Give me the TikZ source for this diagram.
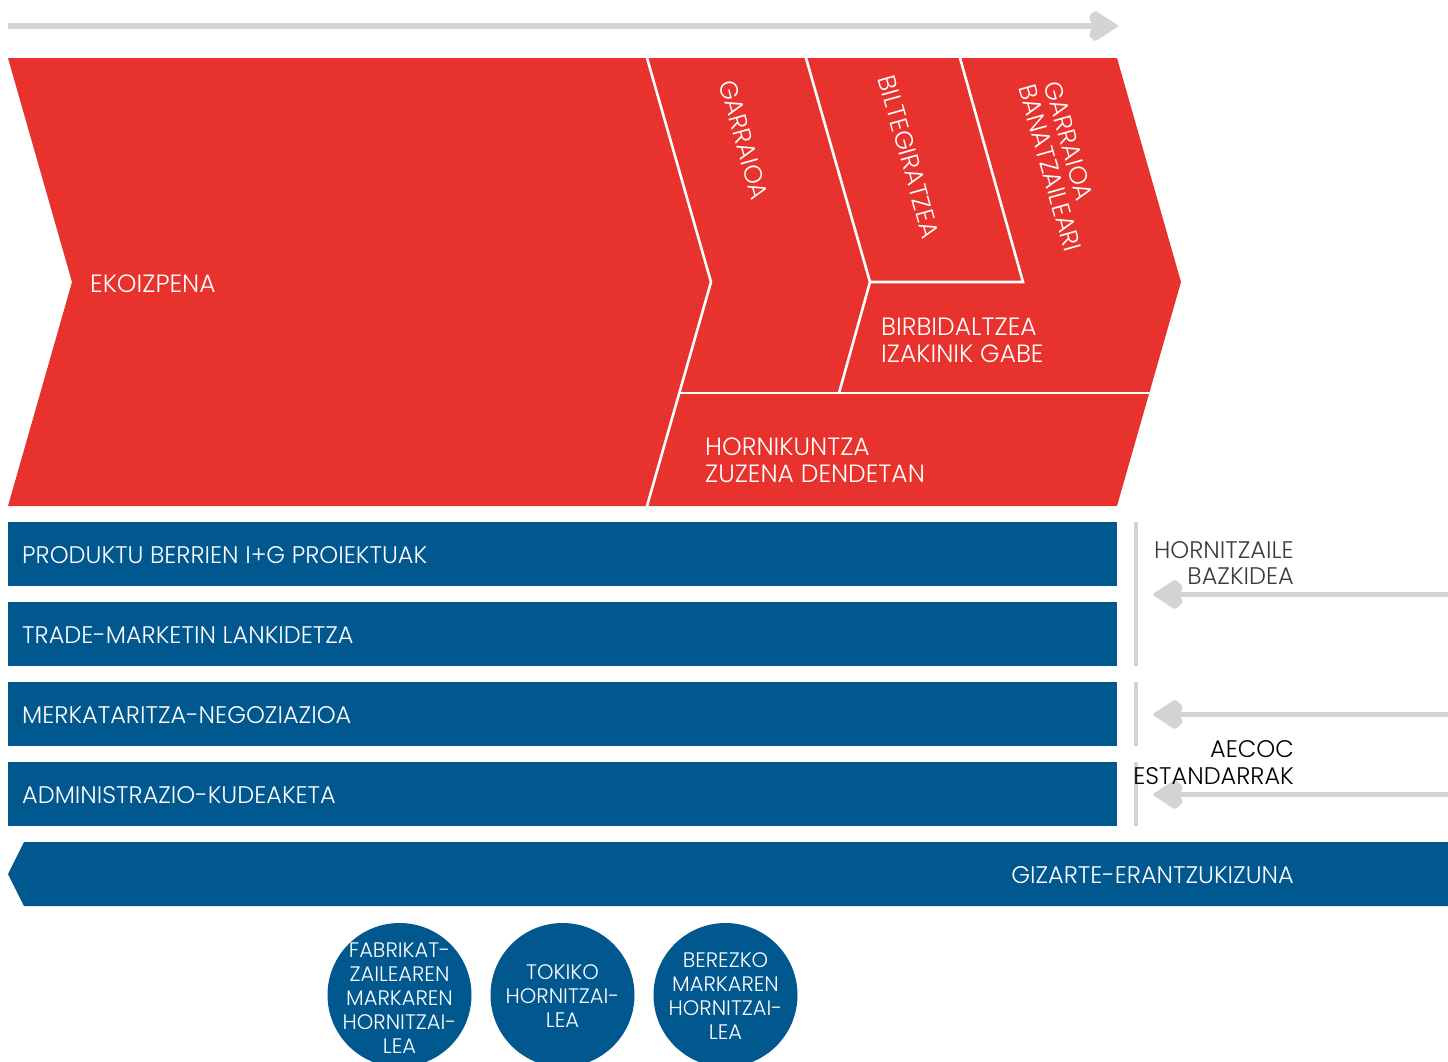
\documentclass[tikz,border=0pt]{standalone}
\usepackage{fontspec}
\setmainfont{Poppins}[UprightFont={* Light}]
\definecolor{cred}{RGB}{232,50,45}
\definecolor{cblue}{RGB}{0,88,143}
\definecolor{cgray}{RGB}{211,212,213}
\definecolor{ctext}{RGB}{60,60,60}
\begin{document}
\begin{tikzpicture}[x=1pt,y=-1pt,
  redtxt/.style={text=white,inner sep=0pt,font=\fontsize{25}{27}\selectfont},
  bartxt/.style={text=white,inner sep=0pt,anchor=west,font=\fontsize{24}{26}\selectfont},
  sidetxt/.style={inner sep=0pt,anchor=base east,font=\fontsize{24}{26}\selectfont},
  circtxt/.style={text=white,inner sep=0pt,align=center,font=\fontsize{21}{24}\selectfont},
  sep/.style={draw=white,line width=2.6pt,line join=miter},
  grayline/.style={draw=cgray,line width=5.5pt},
  grayhead/.style={fill=cgray,rounded corners=1.5pt},
  vbar/.style={draw=cgray,line width=4pt}]
\useasboundingbox (0,0) rectangle (1448,1061);
\clip (0,0) rectangle (1448,1061);
% top arrow
\coordinate (ta) at (8,26);
\coordinate (tb) at (1095,26);
\draw[grayline,line width=6pt] (ta) -- (tb);
\fill[grayhead,shift={(1119,26)}] (0,0) -- (-24,-15.5) -- (-30,-10) -- (-27,0) -- (-30,10) -- (-24,15.5) -- cycle;
% red chevron
\fill[cred] (8,58) -- (1117,58) -- (1181,282) -- (1117,506) -- (8,506) -- (72,282) -- cycle;
\draw[sep] (647,58) -- (711,282) -- (647,506);
\draw[sep] (806,58) -- (870,282) -- (839,393);
\draw[sep] (960,58) -- (1023,282) -- (870,282);
\draw[sep] (679,393) -- (1150,393);
\node[redtxt,anchor=base west] (ekoiz) at (90,292) {EKOIZPENA};
\node[redtxt,rotate=-74.3] (garr1) at (744,140) {GARRAIOA};
\node[redtxt,rotate=-74.3] (bilte) at (909,157) {BILTEGIRATZEA};
\node[redtxt,rotate=-74.3] (garr2) at (1069,141) {GARRAIOA};
\node[redtxt,rotate=-74.3] (banat) at (1050,168) {BANATZAILEARI};
\node[redtxt,anchor=base west] (birb1) at (881,335) {BIRBIDALTZEA};
\node[redtxt,anchor=base west] (birb2) at (881,362) {IZAKINIK GABE};
\node[redtxt,anchor=base west] (horn1) at (705,455) {HORNIKUNTZA};
\node[redtxt,anchor=base west] (horn2) at (705,482) {ZUZENA DENDETAN};
% blue bars
\fill[cblue] (8,522) rectangle (1117,586);
\fill[cblue] (8,602) rectangle (1117,666);
\fill[cblue] (8,682) rectangle (1117,746);
\fill[cblue] (8,762) rectangle (1117,826);
\node[bartxt] (b1) at (22,555) {PRODUKTU BERRIEN I+G PROIEKTUAK};
\node[bartxt] (b2) at (22,635) {TRADE-MARKETIN LANKIDETZA};
\node[bartxt] (b3) at (22,715) {MERKATARITZA-NEGOZIAZIOA};
\node[bartxt] (b4) at (22,795) {ADMINISTRAZIO-KUDEAKETA};
% gray vertical lines
\draw[vbar] (1135.5,522) -- (1135.5,666);
\draw[vbar] (1135.5,682) -- (1135.5,746);
\draw[vbar] (1135.5,762) -- (1135.5,826);
% side arrows
\coordinate (s1) at (1448,594.5);
\coordinate (e1) at (1178,594.5);
\coordinate (s2) at (1448,714.5);
\coordinate (e2) at (1178,714.5);
\coordinate (s3) at (1448,794.5);
\coordinate (e3) at (1178,794.5);
\draw[grayline] (s1) -- (e1);
\draw[grayline] (s2) -- (e2);
\draw[grayline] (s3) -- (e3);
\foreach \yy in {594.5,714.5,794.5}{
  \fill[grayhead,shift={(1152,\yy)}] (0,0) -- (23,-15) -- (31,-8) -- (28,0) -- (31,8) -- (23,15) -- cycle;
}
\node[sidetxt,text=ctext] (hz1) at (1294,558.5) {HORNITZAILE};
\node[sidetxt,text=ctext] (hz2) at (1294,584.5) {BAZKIDEA};
\node[sidetxt,text=black] (ae1) at (1294,757) {AECOC};
\node[sidetxt,text=black] (ae2) at (1294,784.5) {ESTANDARRAK};
% bottom bar
\fill[cblue] (8,874) -- (24,842) -- (1448,842) -- (1448,906) -- (24,906) -- cycle;
\node[bartxt,anchor=east] (giz) at (1294,875) {GIZARTE-ERANTZUKIZUNA};
% circles
\fill[cblue] (399.5,995) circle (72);
\fill[cblue] (562.5,995) circle (72);
\fill[cblue] (725.5,995) circle (72);
\node[circtxt] (c1) at (399.5,998) {FABRIKAT-\\ZAILEAREN\\MARKAREN\\HORNITZAI-\\LEA};
\node[circtxt] (c2) at (562.5,996) {TOKIKO\\HORNITZAI-\\LEA};
\node[circtxt] (c3) at (725.5,996) {BEREZKO\\MARKAREN\\HORNITZAI-\\LEA};
\end{tikzpicture}
\end{document}
